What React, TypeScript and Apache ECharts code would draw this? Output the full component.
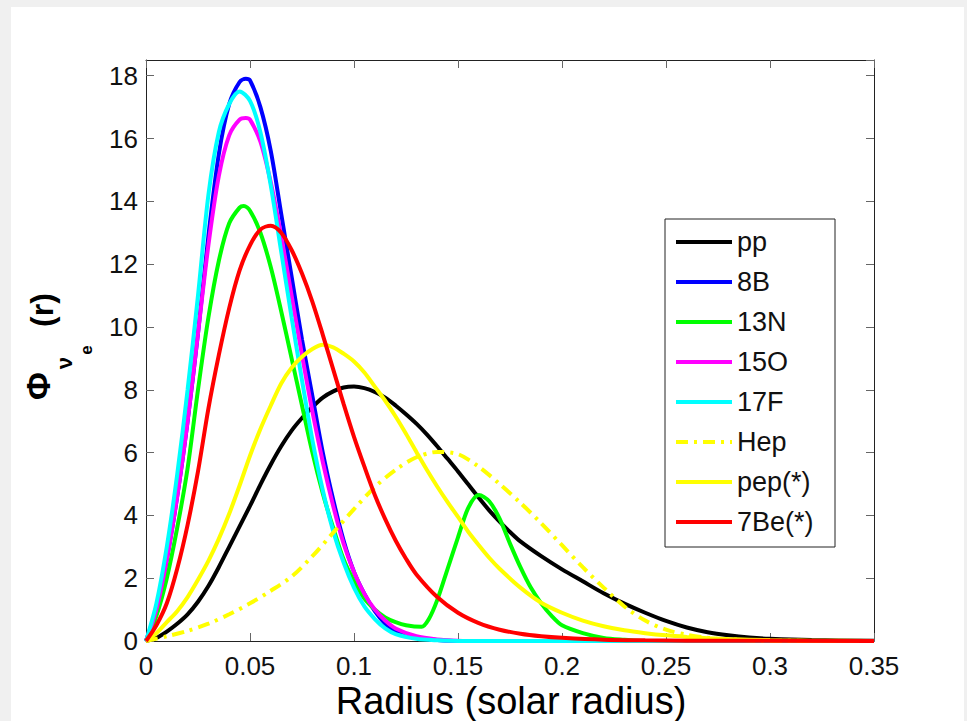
import React, { useEffect, useRef } from "react";
import * as echarts from "echarts";

// Radius (solar radius) and flux values for each source
const ppR = [0,0.005,0.01,0.015,0.02,0.025,0.03,0.035,0.04,0.045,0.05,0.055,0.06,0.065,0.07,0.075,0.08,0.085,0.09,0.095,0.1,0.105,0.11,0.115,0.12,0.125,0.13,0.135,0.14,0.145,0.15,0.155,0.16,0.165,0.17,0.175,0.18,0.19,0.2,0.21,0.22,0.23,0.24,0.25,0.26,0.27,0.28,0.29,0.3,0.32,0.35];
const ppV = [0,0.1,0.3,0.55,0.85,1.25,1.75,2.35,3.0,3.65,4.3,4.98,5.62,6.2,6.7,7.1,7.45,7.75,7.95,8.07,8.1,8.05,7.93,7.75,7.5,7.22,6.92,6.58,6.2,5.8,5.4,4.98,4.56,4.16,3.8,3.47,3.17,2.7,2.28,1.9,1.52,1.19,0.9,0.64,0.43,0.28,0.18,0.11,0.07,0.03,0.01];

const b8R = [0,0.005,0.01,0.015,0.02,0.025,0.03,0.035,0.04,0.045,0.048,0.05,0.055,0.06,0.065,0.07,0.075,0.08,0.085,0.09,0.095,0.1,0.105,0.11,0.115,0.12,0.13,0.14,0.15,0.35];
const b8V = [0,1.0,2.6,4.6,7.0,9.8,12.9,15.5,17.1,17.8,17.9,17.85,17.0,15.6,13.6,11.6,9.6,7.8,6.0,4.5,3.2,2.2,1.5,0.95,0.55,0.3,0.1,0.03,0,0];

const n13R = [0,0.005,0.01,0.015,0.02,0.025,0.03,0.035,0.04,0.045,0.047,0.05,0.055,0.06,0.065,0.07,0.075,0.08,0.085,0.09,0.095,0.1,0.105,0.11,0.115,0.12,0.125,0.1325,0.136,0.14,0.145,0.15,0.155,0.16,0.165,0.17,0.175,0.18,0.185,0.19,0.195,0.2,0.21,0.22,0.23,0.24,0.35];
const n13V = [0,0.8,2.0,3.6,5.5,8.0,10.3,12.1,13.3,13.8,13.85,13.7,13.0,11.9,10.5,9.0,7.5,6.0,4.7,3.6,2.6,1.9,1.35,1.0,0.75,0.6,0.5,0.45,0.7,1.3,2.3,3.3,4.25,4.65,4.45,3.9,3.1,2.35,1.7,1.2,0.8,0.5,0.25,0.1,0.04,0,0];

const o15R = [0,0.005,0.01,0.015,0.02,0.025,0.03,0.035,0.04,0.045,0.048,0.05,0.055,0.06,0.065,0.07,0.075,0.08,0.085,0.09,0.095,0.1,0.105,0.11,0.115,0.12,0.13,0.14,0.15,0.16,0.35];
const o15V = [0,1.0,2.6,4.6,7.0,9.8,12.6,14.8,16.1,16.6,16.65,16.6,15.9,14.6,12.9,11.0,9.1,7.3,5.7,4.3,3.1,2.2,1.5,1.0,0.65,0.4,0.15,0.05,0.01,0,0];

const f17R = [0,0.005,0.01,0.015,0.02,0.025,0.03,0.035,0.04,0.045,0.05,0.055,0.06,0.065,0.07,0.075,0.08,0.085,0.09,0.095,0.1,0.105,0.11,0.115,0.12,0.13,0.14,0.15,0.35];
const f17V = [0,1.2,3.0,5.3,8.0,11.0,14.2,16.2,17.1,17.5,17.2,16.2,14.5,12.4,10.3,8.3,6.4,4.8,3.5,2.5,1.7,1.1,0.7,0.4,0.22,0.07,0.02,0,0];

const hepR = [0,0.01,0.02,0.03,0.04,0.05,0.06,0.07,0.08,0.09,0.1,0.11,0.12,0.13,0.14,0.15,0.16,0.17,0.18,0.19,0.2,0.21,0.22,0.23,0.24,0.25,0.26,0.27,0.28,0.3,0.35];
const hepV = [0,0.15,0.32,0.55,0.85,1.2,1.6,2.05,2.7,3.45,4.2,4.9,5.45,5.85,6.02,5.95,5.55,5.0,4.4,3.75,3.05,2.35,1.7,1.1,0.65,0.36,0.2,0.1,0.05,0.01,0];

const pepR = [0,0.005,0.01,0.015,0.02,0.025,0.03,0.035,0.04,0.045,0.05,0.055,0.06,0.065,0.07,0.075,0.08,0.085,0.09,0.095,0.1,0.105,0.11,0.115,0.12,0.125,0.13,0.135,0.14,0.145,0.15,0.155,0.16,0.165,0.17,0.18,0.19,0.2,0.21,0.22,0.23,0.24,0.25,0.26,0.27,0.28,0.3,0.32,0.35];
const pepV = [0,0.25,0.6,0.95,1.4,1.95,2.55,3.25,4.05,4.95,5.9,6.75,7.5,8.2,8.7,9.05,9.3,9.43,9.35,9.15,8.9,8.55,8.1,7.65,7.15,6.6,6.02,5.45,4.92,4.42,3.95,3.47,3.05,2.65,2.3,1.7,1.22,0.9,0.65,0.47,0.34,0.25,0.18,0.13,0.09,0.06,0.03,0.01,0];

const be7R = [0,0.005,0.01,0.015,0.02,0.025,0.03,0.035,0.04,0.045,0.05,0.055,0.06,0.065,0.07,0.075,0.08,0.085,0.09,0.095,0.1,0.105,0.11,0.115,0.12,0.125,0.13,0.14,0.15,0.16,0.17,0.18,0.19,0.2,0.22,0.24,0.26,0.35];
const be7V = [0,0.5,1.2,2.3,3.7,5.4,7.4,9.1,10.6,11.8,12.6,13.1,13.22,13.0,12.45,11.7,10.8,9.75,8.65,7.55,6.5,5.55,4.65,3.88,3.2,2.62,2.12,1.4,0.9,0.57,0.36,0.23,0.15,0.1,0.04,0.02,0.01,0];

const seriesNames = ["pp", "8B", "13N", "15O", "17F", "Hep", "pep(*)", "7Be(*)"];
const seriesColors = ["#000000", "#0000ff", "#00ff00", "#ff00ff", "#00ffff", "#ffff00", "#ffff00", "#ff0000"];
const seriesR = [ppR, b8R, n13R, o15R, f17R, hepR, pepR, be7R];
const seriesV = [ppV, b8V, n13V, o15V, f17V, hepV, pepV, be7V];

const xTicks = [0, 0.05, 0.1, 0.15, 0.2, 0.25, 0.3, 0.35];
const yTicks = [0, 2, 4, 6, 8, 10, 12, 14, 16, 18];

const FONT = '"Liberation Sans", Arial, Helvetica, sans-serif';
const DASH_DOT = [12, 6, 3, 6];

export default function App() {
  const ref = useRef<HTMLDivElement>(null);
  useEffect(() => {
    if (!ref.current) return;
    const chart = echarts.init(ref.current, null, { renderer: "svg" });
    const tickStyle = { show: true, inside: true, length: 8, lineStyle: { color: "#666", width: 1 } };
    const xBase = {
      type: "value" as const,
      min: xTicks[0],
      max: xTicks[xTicks.length - 1],
      interval: 0.05,
      splitLine: { show: false },
      axisLine: { show: true, onZero: false, lineStyle: { color: "#222", width: 1 } },
      axisTick: tickStyle,
    };
    const yBase = {
      type: "value" as const,
      min: 0,
      max: 18.5,
      interval: 2,
      splitLine: { show: false },
      axisLine: { show: true, onZero: false, lineStyle: { color: "#222", width: 1 } },
      axisTick: tickStyle,
    };
    const series = seriesNames.map((name, i) => ({
      name,
      type: "line" as const,
      data: seriesR[i].map((r, j) => [r, seriesV[i][j]]),
      showSymbol: false,
      symbol: "none",
      smooth: 0.3,
      lineStyle: {
        color: seriesColors[i],
        width: 4,
        type: name === "Hep" ? DASH_DOT : "solid",
      },
      itemStyle: { color: seriesColors[i] },
      z: 2 + i * 0.01,
    }));

    // Legend drawn by hand so the line samples carry no marker
    const legendX = 676;
    const legendY = 242;
    const legendStep = 40;
    const legendItems: any[] = [];
    seriesNames.forEach((name, i) => {
      const y = legendY + i * legendStep;
      legendItems.push({
        type: "line",
        shape: { x1: legendX, y1: y, x2: legendX + 56, y2: y },
        style: {
          stroke: seriesColors[i],
          lineWidth: 4,
          lineDash: name === "Hep" ? DASH_DOT : null,
        },
        z: 11,
      });
      legendItems.push({
        type: "text",
        x: legendX + 61,
        y,
        style: { text: name, fontSize: 27, fontFamily: FONT, fill: "#111", align: "left", verticalAlign: "middle" },
        z: 11,
      });
    });

    chart.setOption({
      animation: false,
      grid: { left: 146, top: 60, width: 728, height: 581, containLabel: false },
      xAxis: [
        {
          ...xBase,
          position: "bottom",
          axisLabel: {
            show: true,
            margin: 12,
            color: "#111",
            fontSize: 26,
            fontFamily: FONT,
            formatter: (v: number) => String(+v.toFixed(2)),
          },
        },
        { ...xBase, position: "top", axisLabel: { show: false } },
      ],
      yAxis: [
        {
          ...yBase,
          position: "left",
          axisLabel: {
            show: true,
            margin: 8,
            color: "#111",
            fontSize: 26,
            fontFamily: FONT,
            showMaxLabel: false,
            formatter: (v: number) => (yTicks.includes(v) ? String(v) : ""),
          },
        },
        { ...yBase, position: "right", axisLabel: { show: false } },
      ],
      graphic: [
        {
          type: "rect",
          shape: { x: 665, y: 219, width: 170, height: 328 },
          style: { fill: "#fff", stroke: "#222", lineWidth: 1 },
          z: 10,
        },
        ...legendItems,
        {
          type: "text",
          x: 511,
          y: 701,
          style: { text: "Radius (solar radius)", fontSize: 38, fontFamily: FONT, fill: "#000", align: "center", verticalAlign: "middle" },
        },
        {
          type: "text",
          x: 38,
          y: 386,
          rotation: Math.PI / 2,
          style: { text: "Φ", fontSize: 34, fontWeight: "bold", fontFamily: FONT, fill: "#000", align: "center", verticalAlign: "middle" },
        },
        {
          type: "text",
          x: 64,
          y: 363,
          rotation: Math.PI / 2,
          style: { text: "ν", fontSize: 22, fontWeight: "bold", fontFamily: FONT, fill: "#000", align: "center", verticalAlign: "middle" },
        },
        {
          type: "text",
          x: 86,
          y: 350,
          rotation: Math.PI / 2,
          style: { text: "e", fontSize: 17, fontWeight: "bold", fontFamily: FONT, fill: "#000", align: "center", verticalAlign: "middle" },
        },
        {
          type: "text",
          x: 42,
          y: 310,
          rotation: Math.PI / 2,
          style: { text: "(r)", fontSize: 32, fontWeight: "bold", fontFamily: FONT, fill: "#000", align: "center", verticalAlign: "middle" },
        },
      ],
      series,
    });
    return () => chart.dispose();
  }, []);
  return (
    <div style={{ position: "fixed", left: 0, top: 0, width: 967, height: 721, background: "#f0f0f0" }}>
      <div style={{ position: "absolute", left: 11, top: 7, width: 953, height: 714, background: "#ffffff" }} />
      <div ref={ref} style={{ position: "absolute", left: 0, top: 0, width: 967, height: 721 }} />
    </div>
  );
}
